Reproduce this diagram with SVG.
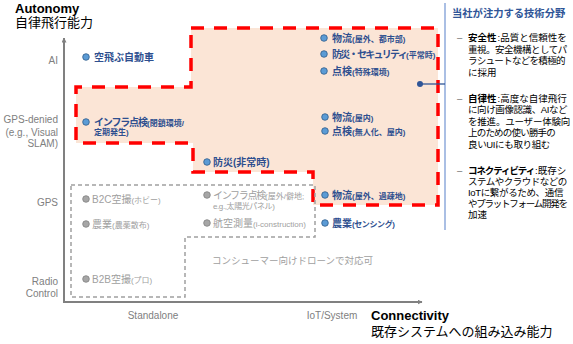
<svg xmlns="http://www.w3.org/2000/svg" width="573" height="344" viewBox="0 0 573 344">
<defs>
<marker id="arr" viewBox="0 0 10 10" refX="9" refY="5" markerWidth="5" markerHeight="5" orient="auto" markerUnits="userSpaceOnUse">
<path d="M0,0 L10,5 L0,10 Z" fill="#808080"/>
</marker>
<style>
text{font-family:"Liberation Sans","Noto Sans CJK JP",sans-serif;}
.ax{font-size:10px;fill:#808080;}
.axr{font-size:10px;fill:#808080;text-anchor:end;}
.ttl{font-size:13px;fill:#000;}
.b{font-size:10px;font-weight:bold;fill:#2e4f8f;}
.bs{font-size:8px;font-weight:bold;fill:#2e4f8f;}
.g{font-size:10px;fill:#a0a0a0;}
.gs{font-size:8px;fill:#a0a0a0;}
.bd{fill:#5b9bd5;stroke:#2e5c8a;stroke-width:0.8;}
.gd{fill:#a6a6a6;stroke:#808080;stroke-width:0.8;}
.p{font-size:9.5px;fill:#000;}
.pk{font-size:9.5px;fill:#000;font-weight:bold;}
.dash{font-size:9.5px;fill:#666;}
</style>
</defs>

<!-- regions -->
<g id="focus-region">
<path d="M191,28 L438,28 L438,205 L313,205 L313,172 L193,172 L193,143 L76,143 L76,87 L191,87 Z" fill="#fbe5d6" stroke="#ff0000" stroke-width="3.5" stroke-dasharray="13,10"/>
</g>
<g id="consumer-region">
<path d="M71,185 L315,185 L315,237 L185,237 L185,297 L71,297 Z" fill="none" stroke="#a0a0a0" stroke-width="1.5" stroke-dasharray="4,3"/>
<text x="212" y="264" class="g" style="font-size:9.5px">コンシューマー向けドローンで対応可</text>
</g>

<!-- axes -->
<g id="axes">
<line x1="64" y1="303" x2="64" y2="38" stroke="#808080" stroke-width="2" marker-end="url(#arr)"/>
<line x1="63" y1="302" x2="422" y2="302" stroke="#808080" stroke-width="2" marker-end="url(#arr)"/>
<text x="15" y="13" class="ttl" font-weight="bold">Autonomy</text>
<text x="15" y="27" class="ttl">自律飛行能力</text>
<text x="371" y="320" class="ttl" font-weight="bold">Connectivity</text>
<text x="371" y="336" class="ttl">既存システムへの組み込み能力</text>
<text x="58" y="63.5" class="axr">AI</text>
<text x="58" y="123" class="axr">GPS-denied</text>
<text x="58" y="135.5" class="axr">(e.g., Visual</text>
<text x="58" y="147" class="axr">SLAM)</text>
<text x="58" y="205.5" class="axr">GPS</text>
<text x="58" y="284.5" class="axr">Radio</text>
<text x="58" y="297" class="axr">Control</text>
<text x="153" y="319" class="ax" text-anchor="middle">Standalone</text>
<text x="332" y="319" class="ax" text-anchor="middle">IoT/System</text>
</g>

<!-- blue nodes -->
<g id="flying-car"><circle cx="86" cy="57" r="3.3" class="bd"/><text x="94" y="61" class="b">空飛ぶ自動車</text></g>
<g id="logistics-urban"><circle cx="324" cy="38" r="3.3" class="bd"/><text x="332" y="42" class="b">物流</text><text x="352" y="42" class="bs">(屋外、都市部)</text></g>
<g id="security-normal"><circle cx="324" cy="54" r="3.3" class="bd"/><text x="332" y="58" class="b" letter-spacing="-1.7">防災・セキュリティ</text><text x="406" y="58" class="bs">(平常時)</text></g>
<g id="inspection-special"><circle cx="324" cy="71" r="3.3" class="bd"/><text x="332" y="75" class="b">点検</text><text x="352" y="75" class="bs">(特殊環境)</text></g>
<g id="infra-closed"><circle cx="86" cy="122" r="3.3" class="bd"/><text x="94" y="126" class="b" letter-spacing="-1.15">インフラ点検</text><text x="147" y="126" class="bs">(閉鎖環境/</text><text x="94" y="135" class="bs">定期発生)</text></g>
<g id="logistics-indoor"><circle cx="325" cy="117" r="3.3" class="bd"/><text x="332" y="121" class="b">物流</text><text x="352" y="121" class="bs">(屋内)</text></g>
<g id="inspection-indoor"><circle cx="325" cy="131" r="3.3" class="bd"/><text x="332" y="135" class="b">点検</text><text x="352" y="135" class="bs">(無人化、屋内)</text></g>
<g id="disaster-emergency"><circle cx="207" cy="162" r="3.3" class="bd"/><text x="213" y="166" class="b">防災(非常時)</text></g>
<g id="logistics-rural"><circle cx="325" cy="195" r="3.3" class="bd"/><text x="332" y="199" class="b">物流</text><text x="352" y="199" class="bs">(屋外、過疎地)</text></g>
<g id="agri-sensing"><circle cx="325" cy="223" r="3.3" class="bd"/><text x="332" y="227" class="b">農業</text><text x="352" y="227" class="bs" letter-spacing="-0.4">(センシング)</text></g>

<!-- grey nodes -->
<g id="b2c-aerial"><circle cx="86" cy="199" r="3.3" class="gd"/><text x="92" y="203" class="g">B2C空撮<tspan class="gs">(ホビー)</tspan></text></g>
<g id="agri-spray"><circle cx="86" cy="224" r="3.3" class="gd"/><text x="92" y="228" class="g">農業<tspan class="gs">(農薬散布)</tspan></text></g>
<g id="b2b-aerial"><circle cx="86" cy="279" r="3.3" class="gd"/><text x="92" y="283" class="g">B2B空撮<tspan class="gs">(プロ)</tspan></text></g>
<g id="infra-outdoor"><circle cx="207" cy="195" r="3.3" class="gd"/><text x="213" y="199" class="g" letter-spacing="-1.3">インフラ点検</text><text x="265" y="199" class="gs">(屋外/僻地;</text><text x="213" y="209" class="gs" letter-spacing="-0.4">e.g.,太陽光パネル)</text></g>
<g id="aerial-survey"><circle cx="207" cy="223" r="3.3" class="gd"/><text x="213" y="227" class="g">航空測量<tspan class="gs">(i-construction)</tspan></text></g>

<!-- connectors -->
<g id="connectors">
<line x1="445" y1="3" x2="445" y2="230" stroke="#8eaadb" stroke-width="1.5"/>
<line x1="420" y1="84" x2="445" y2="84" stroke="#2f5597" stroke-width="1.3"/>
<circle cx="420" cy="84" r="3" fill="#2f5597"/>
</g>

<!-- focus panel -->
<g id="focus-panel">
<text x="452" y="17" style="font-size:10.3px;font-weight:bold;fill:#2f5597">当社が注力する技術分野</text>
<text x="457" y="41" class="dash">–</text>
<text x="468" y="41" class="pk">安全性</text><text x="497.5" y="41" class="p">:品質と信頼性を</text>
<text x="468" y="52.5" class="p" letter-spacing="-0.5">重視。安全機構としてパ</text>
<text x="468" y="64" class="p" letter-spacing="-0.68">ラシュートなどを積極的</text>
<text x="468" y="75.5" class="p">に採用</text>
<text x="457" y="101.5" class="dash">–</text>
<text x="468" y="101.5" class="pk">自律性</text><text x="497.5" y="101.5" class="p">:高度な自律飛行</text>
<text x="468" y="113" class="p" letter-spacing="-0.4">に向け画像認識、AIなど</text>
<text x="468" y="124.5" class="p" letter-spacing="-0.2">を推進。ユーザー体験向</text>
<text x="468" y="136" class="p" letter-spacing="-0.8">上のための使い勝手の</text>
<text x="468" y="147.5" class="p" letter-spacing="-0.35">良いUIにも取り組む</text>
<text x="457" y="173.5" class="dash">–</text>
<text x="468" y="173.5" class="pk" letter-spacing="-1.1">コネクティビティ</text><text x="535" y="173.5" class="p">:既存シ</text>
<text x="468" y="184.5" class="p" letter-spacing="-0.5">ステムやクラウドなどの</text>
<text x="468" y="195.5" class="p" letter-spacing="-0.35">IoTに繋がるため、通信</text>
<text x="468" y="206.5" class="p" letter-spacing="-1.25">やプラットフォーム開発を</text>
<text x="468" y="217.5" class="p">加速</text>
</g>
</svg>
